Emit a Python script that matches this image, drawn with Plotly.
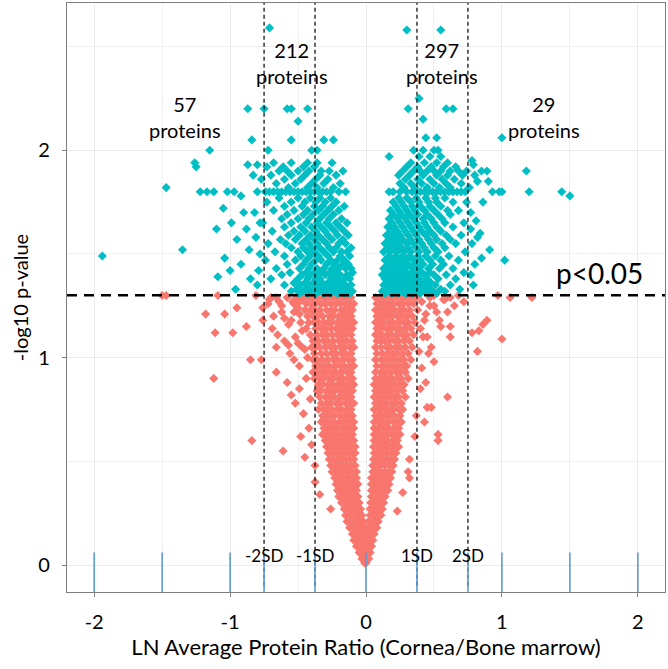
import plotly.graph_objects as go

# ---------------- data ----------------
# significant proteins, rows of (y, x1, x2, ...)
sig_left_rows = [
    (1.31, -0.49, -0.43, -0.37, -0.31, -0.26, -0.21, -0.16, -0.12),
    (1.32, -0.55, -0.46, -0.40, -0.34, -0.29, -0.24, -0.19, -0.14, -0.10),
    (1.33, -0.51, -0.44, -0.38, -0.33, -0.27, -0.22, -0.17, -0.13),
    (1.35, -0.60, -0.48, -0.42, -0.36, -0.30, -0.25, -0.20, -0.15, -0.11),
    (1.36, -0.53, -0.45, -0.39, -0.32, -0.28, -0.23, -0.18),
    (1.38, -0.70, -0.50, -0.43, -0.37, -0.34, -0.26, -0.21, -0.16, -0.12),
    (1.40, -0.62, -0.47, -0.41, -0.35, -0.30, -0.24, -0.19, -0.14),
    (1.41, -0.56, -0.44, -0.38, -0.33, -0.27, -0.22, -0.10),
    (1.43, -0.66, -0.49, -0.42, -0.36, -0.31, -0.25, -0.20, -0.15, -0.11),
    (1.45, -0.58, -0.46, -0.40, -0.29, -0.23, -0.17, -0.13),
    (1.47, -0.74, -0.52, -0.44, -0.37, -0.33, -0.26, -0.21, -0.16),
    (1.49, -0.60, -0.48, -0.41, -0.35, -0.28, -0.19, -0.12),
    (1.51, -0.67, -0.50, -0.43, -0.38, -0.31, -0.24, -0.18, -0.14),
    (1.53, -0.55, -0.46, -0.40, -0.34, -0.27, -0.22, -0.11),
    (1.55, -0.72, -0.59, -0.47, -0.42, -0.36, -0.29, -0.20, -0.15),
    (1.57, -0.63, -0.52, -0.44, -0.38, -0.32, -0.25, -0.17),
    (1.59, -0.57, -0.49, -0.41, -0.35, -0.28, -0.21, -0.13),
    (1.61, -0.69, -0.53, -0.45, -0.37, -0.30, -0.23, -0.16),
    (1.63, -0.60, -0.48, -0.40, -0.33, -0.26, -0.19),
    (1.65, -0.76, -0.55, -0.44, -0.36, -0.29, -0.22, -0.14),
    (1.67, -0.62, -0.50, -0.42, -0.34, -0.27, -0.18),
    (1.69, -0.58, -0.46, -0.39, -0.31, -0.24),
    (1.71, -0.68, -0.53, -0.43, -0.35, -0.28, -0.20),
    (1.73, -0.60, -0.47, -0.38, -0.32, -0.25, -0.16),
    (1.75, -0.73, -0.55, -0.45, -0.37, -0.30, -0.22),
    (1.77, -0.64, -0.50, -0.41, -0.34, -0.26),
    (1.80, -0.74, -0.71, -0.68, -0.65, -0.62, -0.59, -0.56, -0.53, -0.50, -0.47,
     -0.44, -0.41, -0.38, -0.35, -0.32, -0.29, -0.26, -0.20, -0.15),
    (1.82, -0.57, -0.43, -0.36, -0.24),
    (1.84, -0.66, -0.52, -0.40, -0.31, -0.19),
    (1.86, -0.60, -0.48, -0.37, -0.28),
    (1.88, -0.70, -0.55, -0.45, -0.34, -0.22),
    (1.90, -0.64, -0.58, -0.50, -0.42, -0.33, -0.27, -0.17),
    (1.92, -0.73, -0.61, -0.46, -0.38),
    (1.94, -0.68, -0.55, -0.43, -0.36, -0.25),
    (2.00, -0.72, -0.40, -0.36),
    (2.05, -0.55, -0.31, -0.24),
    (2.14, -0.50),
    (2.20, -0.75, -0.58, -0.55, -0.43),
    (2.59, -0.71),
]

sig_right_rows = [
    (1.31, 0.14, 0.19, 0.24, 0.29, 0.34, 0.40, 0.46, 0.52),
    (1.32, 0.12, 0.17, 0.22, 0.27, 0.32, 0.37, 0.43, 0.49, 0.58),
    (1.33, 0.15, 0.20, 0.25, 0.30, 0.35, 0.41, 0.47, 0.55, 0.69),
    (1.35, 0.13, 0.18, 0.23, 0.28, 0.33, 0.38, 0.44, 0.51, 0.62),
    (1.36, 0.16, 0.21, 0.26, 0.31, 0.36, 0.42, 0.48),
    (1.38, 0.14, 0.19, 0.24, 0.29, 0.34, 0.39, 0.45, 0.53, 0.66),
    (1.40, 0.12, 0.17, 0.22, 0.27, 0.32, 0.37, 0.43, 0.50, 0.59),
    (1.41, 0.15, 0.20, 0.25, 0.30, 0.35, 0.41, 0.47, 0.72),
    (1.43, 0.13, 0.18, 0.23, 0.28, 0.34, 0.39, 0.46, 0.54, 0.64),
    (1.45, 0.16, 0.21, 0.26, 0.31, 0.36, 0.42, 0.49, 0.57),
    (1.47, 0.14, 0.19, 0.24, 0.29, 0.35, 0.40, 0.47, 0.55, 0.68),
    (1.49, 0.17, 0.22, 0.27, 0.32, 0.38, 0.44, 0.51, 0.61),
    (1.51, 0.13, 0.18, 0.23, 0.28, 0.33, 0.39, 0.45, 0.53, 0.73),
    (1.53, 0.16, 0.21, 0.26, 0.31, 0.37, 0.43, 0.50, 0.58),
    (1.55, 0.14, 0.19, 0.24, 0.30, 0.35, 0.41, 0.48, 0.56, 0.66),
    (1.57, 0.17, 0.22, 0.27, 0.33, 0.39, 0.46, 0.52, 0.62),
    (1.59, 0.15, 0.20, 0.25, 0.31, 0.37, 0.44, 0.50, 0.59, 0.70),
    (1.61, 0.18, 0.23, 0.29, 0.35, 0.41, 0.47, 0.55),
    (1.63, 0.16, 0.21, 0.27, 0.33, 0.39, 0.45, 0.52, 0.64),
    (1.65, 0.19, 0.25, 0.31, 0.37, 0.43, 0.50, 0.58, 0.72),
    (1.67, 0.17, 0.23, 0.29, 0.35, 0.42, 0.48, 0.56),
    (1.69, 0.20, 0.26, 0.32, 0.38, 0.45, 0.53, 0.62),
    (1.71, 0.18, 0.24, 0.30, 0.36, 0.43, 0.50, 0.60, 0.68),
    (1.73, 0.22, 0.28, 0.34, 0.40, 0.47, 0.55),
    (1.75, 0.20, 0.26, 0.33, 0.39, 0.46, 0.52, 0.64, 0.74),
    (1.77, 0.24, 0.30, 0.37, 0.44, 0.51, 0.58),
    (1.80, 0.17, 0.20, 0.25, 0.30, 0.34, 0.37, 0.40, 0.43, 0.46, 0.49, 0.52,
     0.55, 0.58, 0.61, 0.64, 0.67, 0.70, 0.73),
    (1.82, 0.28, 0.36, 0.45, 0.54, 0.62),
    (1.84, 0.25, 0.33, 0.41, 0.50, 0.59, 0.70),
    (1.86, 0.29, 0.38, 0.47, 0.56, 0.65),
    (1.88, 0.24, 0.32, 0.42, 0.52, 0.60, 0.71),
    (1.90, 0.27, 0.35, 0.40, 0.45, 0.50, 0.55, 0.62, 0.68, 0.74),
    (1.92, 0.30, 0.38, 0.48, 0.57, 0.66),
    (1.94, 0.33, 0.43, 0.52, 0.60),
    (1.97, 0.17, 0.39, 0.47, 0.55),
    (2.00, 0.35, 0.42, 0.50, 0.53),
    (2.06, 0.44, 0.52),
    (2.15, 0.42),
    (2.20, 0.31, 0.59, 0.64),
    (2.25, 0.39),
    (2.58, 0.30, 0.55),
]

sig_outer_left = [
    (-1.94, 1.49), (-1.35, 1.52), (-1.47, 1.82), (-1.15, 2.00), (-1.26, 1.94),
    (-1.25, 1.92), (-0.87, 2.20), (-0.84, 2.05), (-1.22, 1.80), (-1.17, 1.80),
    (-1.12, 1.80), (-1.02, 1.80), (-0.97, 1.80), (-0.92, 1.78), (-0.80, 1.80),
    (-0.87, 1.93), (-0.80, 1.93), (-1.10, 1.62), (-1.05, 1.72), (-0.95, 1.57),
    (-0.88, 1.62), (-0.82, 1.70), (-1.00, 1.42), (-0.92, 1.45), (-0.85, 1.38),
    (-1.09, 1.39), (-0.96, 1.33), (-0.78, 1.50), (-0.80, 1.35), (-0.83, 1.88),
    (-0.78, 1.65), (-0.90, 1.70), (-0.86, 1.52), (-0.79, 1.42), (-1.04, 1.48),
    (-0.77, 1.86), (-0.81, 1.58), (-0.99, 1.65),
]

sig_outer_right = [
    (1.00, 2.06), (1.18, 1.90), (0.85, 1.90), (0.89, 1.90), (0.93, 1.80),
    (0.98, 1.80), (1.00, 1.80), (1.20, 1.80), (1.44, 1.80), (1.50, 1.78),
    (0.82, 1.85), (0.79, 1.93), (0.77, 1.70), (0.81, 1.66), (0.86, 1.75),
    (0.78, 1.55), (0.82, 1.58), (0.80, 1.45), (0.85, 1.48), (1.02, 1.47),
    (0.79, 1.35), (0.77, 1.62), (0.80, 1.88), (0.84, 1.60), (0.91, 1.52),
    (0.77, 1.40), (0.78, 1.95), (0.90, 1.85), (0.76, 1.82),
]

# non-significant proteins, rows of (y, x1, x2, ...)
ns_left_rows = [
    (1.29, -0.46, -0.42, -0.39, -0.35, -0.31, -0.28, -0.24, -0.21, -0.17, -0.14, -0.11),
    (1.26, -0.44, -0.40, -0.37, -0.33, -0.30, -0.26, -0.22, -0.19, -0.15, -0.12, -0.09),
    (1.23, -0.45, -0.41, -0.38, -0.34, -0.29, -0.25, -0.23, -0.18, -0.16, -0.13, -0.10),
    (1.20, -0.43, -0.39, -0.36, -0.32, -0.27, -0.24, -0.20, -0.17, -0.14, -0.11),
    (1.17, -0.42, -0.38, -0.35, -0.31, -0.28, -0.25, -0.21, -0.18, -0.15, -0.12, -0.09),
    (1.14, -0.44, -0.37, -0.33, -0.30, -0.26, -0.22, -0.19, -0.16, -0.13, -0.10),
    (1.11, -0.41, -0.36, -0.32, -0.29, -0.25, -0.21, -0.18, -0.15, -0.11),
    (1.08, -0.39, -0.35, -0.31, -0.28, -0.24, -0.20, -0.17, -0.14, -0.10),
    (1.05, -0.40, -0.37, -0.34, -0.30, -0.26, -0.23, -0.19, -0.16, -0.12, -0.09),
    (1.02, -0.38, -0.33, -0.29, -0.25, -0.22, -0.18, -0.15, -0.11),
    (0.99, -0.39, -0.36, -0.32, -0.28, -0.24, -0.21, -0.17, -0.13, -0.10),
    (0.96, -0.37, -0.34, -0.30, -0.27, -0.23, -0.19, -0.16, -0.12, -0.09),
    (0.93, -0.36, -0.32, -0.29, -0.25, -0.22, -0.18, -0.14, -0.11),
    (0.90, -0.38, -0.34, -0.31, -0.27, -0.24, -0.20, -0.17, -0.13, -0.10),
    (0.87, -0.35, -0.32, -0.28, -0.25, -0.21, -0.18, -0.15, -0.12, -0.09),
    (0.84, -0.36, -0.33, -0.29, -0.26, -0.23, -0.19, -0.16, -0.13, -0.10),
    (0.81, -0.34, -0.30, -0.27, -0.24, -0.20, -0.17, -0.14, -0.11),
    (0.78, -0.33, -0.29, -0.26, -0.22, -0.19, -0.15, -0.12, -0.09),
    (0.75, -0.35, -0.31, -0.28, -0.25, -0.21, -0.18, -0.14, -0.11),
    (0.72, -0.32, -0.29, -0.26, -0.23, -0.19, -0.16, -0.13, -0.10),
    (0.69, -0.33, -0.30, -0.27, -0.24, -0.20, -0.17, -0.14, -0.11, -0.09),
    (0.66, -0.31, -0.28, -0.25, -0.22, -0.18, -0.15, -0.12, -0.09),
    (0.63, -0.32, -0.29, -0.26, -0.23, -0.20, -0.16, -0.13, -0.10),
    (0.60, -0.30, -0.27, -0.24, -0.21, -0.18, -0.15, -0.12, -0.09),
    (0.57, -0.29, -0.26, -0.23, -0.20, -0.17, -0.14, -0.11, -0.08),
    (0.54, -0.28, -0.25, -0.22, -0.19, -0.16, -0.13, -0.10, -0.08),
    (0.51, -0.27, -0.24, -0.21, -0.18, -0.15, -0.12, -0.09),
    (0.48, -0.26, -0.23, -0.20, -0.17, -0.14, -0.11, -0.08),
    (0.45, -0.25, -0.22, -0.19, -0.16, -0.13, -0.10, -0.07),
    (0.42, -0.23, -0.20, -0.17, -0.14, -0.12, -0.09, -0.07),
    (0.39, -0.22, -0.19, -0.16, -0.13, -0.10, -0.08, -0.06),
    (0.36, -0.21, -0.18, -0.15, -0.12, -0.09, -0.07),
    (0.33, -0.20, -0.17, -0.14, -0.11, -0.08, -0.06),
    (0.30, -0.18, -0.15, -0.12, -0.10, -0.07, -0.05),
    (0.27, -0.16, -0.13, -0.11, -0.08, -0.06, -0.04),
    (0.24, -0.15, -0.12, -0.10, -0.07, -0.05, -0.03),
    (0.21, -0.14, -0.11, -0.08, -0.06, -0.04, -0.02),
    (0.18, -0.12, -0.09, -0.07, -0.05, -0.03, -0.01),
    (0.15, -0.10, -0.08, -0.06, -0.04, -0.02),
    (0.12, -0.09, -0.07, -0.05, -0.03, -0.01),
    (0.09, -0.07, -0.05, -0.03, -0.01),
    (0.06, -0.05, -0.03, -0.01),
    (0.03, -0.03, -0.01),
    (0.01, -0.01, 0.00),
]

ns_right_rows = [
    (1.29, 0.07, 0.10, 0.13, 0.16, 0.19, 0.22, 0.26, 0.29, 0.33, 0.37),
    (1.26, 0.08, 0.11, 0.14, 0.17, 0.20, 0.24, 0.27, 0.31, 0.35),
    (1.23, 0.07, 0.10, 0.13, 0.16, 0.18, 0.21, 0.25, 0.28, 0.32, 0.38),
    (1.20, 0.08, 0.11, 0.14, 0.16, 0.19, 0.23, 0.26, 0.30, 0.34),
    (1.17, 0.07, 0.10, 0.13, 0.17, 0.20, 0.24, 0.28, 0.31, 0.36),
    (1.14, 0.08, 0.11, 0.15, 0.18, 0.22, 0.25, 0.29, 0.33),
    (1.11, 0.07, 0.10, 0.12, 0.16, 0.19, 0.23, 0.27, 0.30, 0.35),
    (1.08, 0.08, 0.11, 0.14, 0.17, 0.21, 0.24, 0.28, 0.32),
    (1.05, 0.07, 0.11, 0.15, 0.18, 0.22, 0.25, 0.29, 0.34),
    (1.02, 0.08, 0.12, 0.16, 0.20, 0.23, 0.27, 0.31),
    (0.99, 0.07, 0.11, 0.14, 0.18, 0.21, 0.25, 0.28, 0.33),
    (0.96, 0.08, 0.12, 0.16, 0.20, 0.23, 0.27, 0.30),
    (0.93, 0.07, 0.11, 0.14, 0.18, 0.22, 0.25, 0.29),
    (0.90, 0.07, 0.10, 0.13, 0.16, 0.19, 0.23, 0.26, 0.31),
    (0.87, 0.06, 0.09, 0.12, 0.15, 0.18, 0.21, 0.25, 0.28),
    (0.84, 0.07, 0.10, 0.13, 0.16, 0.19, 0.23, 0.27),
    (0.81, 0.06, 0.09, 0.12, 0.14, 0.17, 0.21, 0.24, 0.29),
    (0.78, 0.07, 0.10, 0.12, 0.15, 0.19, 0.22, 0.26),
    (0.75, 0.06, 0.09, 0.11, 0.14, 0.17, 0.20, 0.24, 0.27),
    (0.72, 0.07, 0.10, 0.12, 0.15, 0.18, 0.21, 0.25),
    (0.69, 0.06, 0.09, 0.11, 0.13, 0.16, 0.20, 0.23, 0.26),
    (0.66, 0.06, 0.09, 0.11, 0.14, 0.17, 0.21, 0.24),
    (0.63, 0.06, 0.08, 0.10, 0.13, 0.16, 0.19, 0.22, 0.25),
    (0.60, 0.06, 0.09, 0.12, 0.14, 0.16, 0.20, 0.23),
    (0.57, 0.055, 0.08, 0.10, 0.12, 0.15, 0.18, 0.21, 0.24),
    (0.54, 0.06, 0.09, 0.11, 0.13, 0.16, 0.19, 0.22),
    (0.51, 0.055, 0.08, 0.10, 0.12, 0.15, 0.18, 0.21),
    (0.48, 0.05, 0.07, 0.09, 0.11, 0.14, 0.17, 0.20),
    (0.45, 0.05, 0.07, 0.09, 0.11, 0.14, 0.17, 0.19),
    (0.42, 0.04, 0.06, 0.08, 0.10, 0.13, 0.16, 0.18),
    (0.39, 0.04, 0.06, 0.08, 0.10, 0.12, 0.15, 0.17),
    (0.36, 0.04, 0.06, 0.08, 0.10, 0.12, 0.14, 0.16),
    (0.33, 0.04, 0.06, 0.08, 0.10, 0.12, 0.14),
    (0.30, 0.035, 0.05, 0.07, 0.09, 0.11, 0.13),
    (0.27, 0.03, 0.05, 0.07, 0.08, 0.10, 0.12),
    (0.24, 0.03, 0.05, 0.06, 0.08, 0.09, 0.11),
    (0.21, 0.02, 0.03, 0.05, 0.07, 0.09),
    (0.18, 0.01, 0.03, 0.05, 0.07, 0.08),
    (0.15, 0.01, 0.03, 0.04, 0.06),
    (0.12, 0.01, 0.02, 0.04, 0.05),
    (0.09, 0.01, 0.02, 0.04),
    (0.06, 0.01, 0.03),
    (0.03, 0.01, 0.02),
]

ns_scatter = [
    (-1.50, 1.30), (-1.47, 1.30), (-1.09, 1.30), (-0.81, 1.30), (-0.71, 1.28),
    (-0.64, 1.27), (-0.58, 1.29), (-0.53, 1.26), (-1.18, 1.21), (-1.04, 1.21),
    (-0.95, 1.24), (-1.11, 1.12), (-0.98, 1.12), (-0.88, 1.15), (-0.76, 1.18),
    (-0.68, 1.20), (-0.62, 1.22), (-0.55, 1.18), (-0.50, 1.24), (-0.85, 0.99),
    (-0.77, 0.99), (-0.66, 1.05), (-0.60, 1.08), (-0.56, 1.02), (-0.52, 1.10),
    (-0.49, 0.96), (-1.12, 0.90), (-0.66, 0.93), (-0.58, 0.88), (-0.55, 0.82),
    (-0.52, 0.78), (-0.49, 0.85), (-0.46, 0.73), (-0.44, 0.90), (-0.42, 0.66),
    (-0.84, 0.60), (-0.61, 0.55), (-0.48, 0.62), (-0.45, 0.52), (-0.40, 0.58),
    (-0.375, 0.48), (-0.375, 0.40), (-0.34, 0.34), (-0.26, 0.27), (-0.43, 1.00),
    (-0.47, 1.05), (-0.41, 0.80), (-0.39, 0.93),
    (-0.70, 1.29), (-0.72, 1.26), (-0.62, 1.25), (-0.60, 1.19), (-0.54, 1.27),
    (-0.53, 1.22), (-0.57, 1.16), (-0.49, 1.21), (-0.48, 1.17), (-0.47, 1.13),
    (-0.69, 1.14), (-0.65, 1.11), (-0.50, 1.07), (-0.45, 1.04), (-0.51, 1.29),
    (-0.49, 1.27), (-0.66, 1.29), (-0.76, 1.24), (-0.57, 1.06), (-0.53, 0.99),
    (0.97, 1.30), (1.06, 1.29), (1.22, 1.29), (0.89, 1.18), (0.86, 1.16),
    (0.83, 1.13), (1.00, 1.09), (0.82, 1.03), (0.60, 0.81), (0.53, 0.63),
    (0.53, 0.60), (0.43, 0.69), (0.45, 0.76), (0.48, 0.76), (0.72, 1.27),
    (0.65, 1.25), (0.58, 1.28), (0.52, 1.22), (0.47, 1.25), (0.43, 1.18),
    (0.55, 1.15), (0.62, 1.10), (0.42, 1.10), (0.46, 1.02), (0.41, 0.95),
    (0.50, 0.98), (0.40, 0.85), (0.44, 0.88), (0.37, 0.72), (0.36, 0.62),
    (0.32, 0.51), (0.31, 0.45), (0.32, 0.42), (0.27, 0.35), (0.23, 0.26),
    (0.50, 1.30), (0.68, 1.30), (0.78, 1.12),
    (0.47, 1.29), (0.50, 1.25), (0.57, 1.28), (0.60, 1.22), (0.54, 1.18),
    (0.62, 1.29), (0.62, 1.15), (0.45, 1.10), (0.48, 1.05), (0.41, 1.27),
    (0.44, 1.21), (0.40, 1.14), (0.39, 1.03),
]

sd_lines = [-0.75, -0.375, 0.375, 0.75]
sd_labels = ["-2SD", "-1SD", "1SD", "2SD"]
blue_marks = [-2, -1.5, -1, -0.75, -0.375, 0, 0.375, 0.75, 1, 1.5, 2]
p_threshold = 1.301
count_x = [-1.33, -0.545, 0.56, 1.31]
count_y = [2.16, 2.42, 2.42, 2.16]
count_text = ["57<br>proteins", "212<br>proteins", "297<br>proteins", "29<br>proteins"]

# ---------------- build ----------------
def flatten_rows(rows):
    xs, ys = [], []
    for r in rows:
        for x in r[1:]:
            xs.append(x)
            ys.append(r[0])
    return xs, ys

TEAL = "#00BFC4"
SALMON = "#F8766D"
FONT = "Lato"

nlx, nly = flatten_rows(ns_left_rows)
nrx, nry = flatten_rows(ns_right_rows)
ns_x = nlx + nrx + [p[0] for p in ns_scatter]
ns_y = nly + nry + [p[1] for p in ns_scatter]

slx, sly = flatten_rows(sig_left_rows)
srx, sry = flatten_rows(sig_right_rows)
sig_x = slx + srx + [p[0] for p in sig_outer_left] + [p[0] for p in sig_outer_right]
sig_y = sly + sry + [p[1] for p in sig_outer_left] + [p[1] for p in sig_outer_right]

fig = go.Figure()
fig.add_trace(go.Scatter(x=ns_x, y=ns_y, mode="markers",
                         marker=dict(symbol="diamond", size=7, color=SALMON, line=dict(width=0)),
                         showlegend=False, hoverinfo="skip"))
fig.add_trace(go.Scatter(x=sig_x, y=sig_y, mode="markers",
                         marker=dict(symbol="diamond", size=7, color=TEAL, line=dict(width=0)),
                         showlegend=False, hoverinfo="skip"))

YMIN, YMAX = -0.13, 2.71
XMIN, XMAX = -2.2, 2.2

shapes = []
for xv in sd_lines:
    shapes.append(dict(type="line", xref="x", yref="y", x0=xv, x1=xv, y0=-0.1, y1=YMAX,
                       line=dict(color="black", width=1.2, dash="4px,3px")))
for xv in blue_marks:
    shapes.append(dict(type="line", xref="x", yref="y", x0=xv, x1=xv, y0=YMIN, y1=0.06,
                       line=dict(color="#5B9BD5", width=1.6)))
shapes.append(dict(type="line", xref="x", yref="y", x0=XMIN, x1=XMAX, y0=p_threshold, y1=p_threshold,
                   line=dict(color="black", width=2.5, dash="10px,7px")))

annotations = []
for xv, lab in zip(sd_lines, sd_labels):
    annotations.append(dict(x=xv, y=0.045, xref="x", yref="y", text=lab, showarrow=False,
                            font=dict(family=FONT, size=17, color="black")))
for xv, yv, t in zip(count_x, count_y, count_text):
    annotations.append(dict(x=xv, y=yv, xref="x", yref="y", text=t, showarrow=False,
                            font=dict(family=FONT, size=20, color="black")))
annotations.append(dict(x=1.72, y=1.41, xref="x", yref="y", text="p<0.05", showarrow=False,
                        font=dict(family=FONT, size=28, color="black")))

axis_common = dict(showgrid=True, gridcolor="#ebebeb", gridwidth=1, zeroline=False,
                   showline=True, linecolor="#7f7f7f", linewidth=1.2, mirror=True,
                   ticks="outside", ticklen=4, tickcolor="#7f7f7f", automargin=False,
                   tickfont=dict(family=FONT, size=20, color="black"))

fig.update_layout(
    width=668, height=669,
    margin=dict(l=67, r=3, t=3, b=77),
    paper_bgcolor="white", plot_bgcolor="white",
    xaxis=dict(range=[XMIN, XMAX], tickvals=[-2, -1, 0, 1, 2], ticktext=["-2", "-1", "0", "1", "2"],
               minor=dict(tickvals=[-1.5, -0.5, 0.5, 1.5], showgrid=True, gridcolor="#f0f0f0", ticks=""),
               ticklabelstandoff=8,
               title=dict(text="LN Average Protein Ratio (Cornea/Bone marrow)",
                          font=dict(family=FONT, size=22, color="black"), standoff=6),
               **axis_common),
    yaxis=dict(range=[YMIN, YMAX], tickvals=[0, 1, 2], ticktext=["0", "1", "2"],
               minor=dict(tickvals=[0.5, 1.5, 2.5], showgrid=True, gridcolor="#f0f0f0", ticks=""),
               ticklabelstandoff=8,
               title=dict(text="-log10 p-value", font=dict(family=FONT, size=20, color="black"), standoff=4),
               **axis_common),
    shapes=shapes,
    annotations=annotations,
)

fig.write_html("out.html", config={"displayModeBar": False},
               post_script="document.body.style.margin='0px';document.body.style.padding='0px';")
